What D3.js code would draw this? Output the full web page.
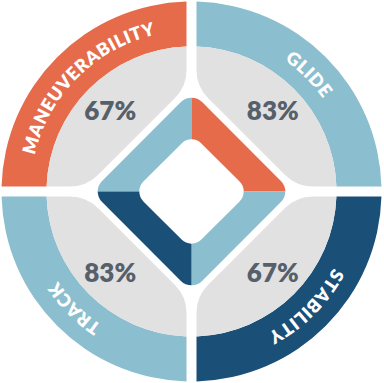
<!DOCTYPE html>
<html><head><meta charset="utf-8">
<script src="https://cdn.jsdelivr.net/npm/d3@7"></script>
<style>html,body{margin:0;padding:0;background:#fff;}svg{display:block;}</style>
</head><body>
<svg id="chart" width="384" height="383"></svg>
<script>
const categories = ["MANEUVERABILITY", "GLIDE", "STABILITY", "TRACK"];
const values = [67, 83, 67, 83];
const ringColors = ["#E66B4B", "#8BBECE", "#1A4F78", "#8BBECE"];
const diamondColors = ["#8BBECE", "#E66B4B", "#8BBECE", "#1A4F78"]; // TL, TR, BR, BL
const greyColor = "#E2E1E1";
const textColor = "#56606A";

const cx = 191.5, cy = 191.5;
const R = 190, Rin = 145, gap = 10, h = gap / 2;
const G = 110, rf = 40;           // grey inner diagonal (L1) and fillet radius
const dOuter = 100, dInner = 58;  // diamond L1 sizes
const labelFont = "Lato, 'Open Sans', sans-serif";

const svg = d3.select("#chart");
const g = svg.append("g").attr("transform", `translate(${cx},${cy})`);

const pie = d3.pie().sort(null).value(() => 1).startAngle(-Math.PI / 2).endAngle(3 * Math.PI / 2);
const arcs = pie(categories.map((c, i) => ({ cat: c, value: values[i], i })));

// outer coloured ring
const ringArc = d3.arc().innerRadius(Rin).outerRadius(R).padAngle(gap / R).padRadius(R);
g.selectAll("path.ring").data(arcs).join("path")
  .attr("class", "ring")
  .attr("d", ringArc)
  .attr("fill", d => ringColors[d.data.i]);

// grey sectors (TL shape, rotated for others)
function greyPath() {
  const p = d3.path();
  const ay = -Math.sqrt(Rin * Rin - h * h);
  const A = [-h, ay], B = [-h, -(G - h)], C = [-(G - h), -h], D = [ay, -h];
  p.moveTo(A[0], A[1]);
  p.arcTo(B[0], B[1], C[0], C[1], rf);
  p.arcTo(C[0], C[1], D[0], D[1], rf);
  p.lineTo(D[0], D[1]);
  let a0 = Math.atan2(D[1], D[0]); if (a0 < 0) a0 += 2 * Math.PI;
  let a1 = Math.atan2(A[1], A[0]); if (a1 < 0) a1 += 2 * Math.PI;
  p.arc(0, 0, Rin, a0, a1, false);
  p.closePath();
  return p.toString();
}
g.selectAll("path.grey").data(arcs).join("path")
  .attr("class", "grey")
  .attr("d", greyPath())
  .attr("transform", d => `rotate(${d.data.i * 90})`)
  .attr("fill", greyColor);

// diamond quadrants
const defs = svg.append("defs");
const quadRects = [[-200, -200], [0, -200], [0, 0], [-200, 0]];
quadRects.forEach((q, i) => {
  defs.append("clipPath").attr("id", "q" + i)
    .append("rect").attr("x", q[0]).attr("y", q[1]).attr("width", 200).attr("height", 200);
});
const so = dOuter / Math.SQRT2, si = dInner / Math.SQRT2;
g.selectAll("g.dq").data(arcs).join("g")
  .attr("class", "dq")
  .attr("clip-path", d => `url(#q${d.data.i})`)
  .append("rect")
  .attr("x", -so).attr("y", -so).attr("width", 2 * so).attr("height", 2 * so)
  .attr("rx", 15).attr("ry", 15)
  .attr("transform", "rotate(45)")
  .attr("fill", d => diamondColors[d.data.i]);
g.append("rect")
  .attr("x", -si).attr("y", -si).attr("width", 2 * si).attr("height", 2 * si)
  .attr("rx", 14).attr("ry", 14)
  .attr("transform", "rotate(45)")
  .attr("fill", "#fff");

// curved labels, one glyph at a time along the ring
const rb = 161, lfs = 18, ls = 0.6;
const measure = svg.append("text")
  .attr("font-family", labelFont).attr("font-weight", 800).attr("font-size", lfs)
  .attr("x", -1000).attr("y", -1000);
arcs.forEach(d => {
  const chars = d.data.cat.split("");
  const widths = chars.map(c => { measure.text(c); return measure.node().getComputedTextLength() + ls; });
  const total = d3.sum(widths) - ls;
  const mid = (d.startAngle + d.endAngle) / 2;
  let cum = 0;
  const lg = g.append("g").attr("class", "label");
  chars.forEach((c, k) => {
    const a = mid + (cum + (widths[k] - ls) / 2 - total / 2) / rb;
    cum += widths[k];
    lg.append("text")
      .attr("transform", `translate(${rb * Math.sin(a)},${-rb * Math.cos(a)}) rotate(${a * 180 / Math.PI})`)
      .attr("text-anchor", "middle")
      .attr("fill", "#fff")
      .attr("font-family", labelFont)
      .attr("font-weight", 800)
      .attr("font-size", lfs)
      .text(c);
  });
});
measure.remove();

// percentages
const pctArc = d3.arc().innerRadius(115).outerRadius(115);
g.selectAll("text.pct").data(arcs).join("text")
  .attr("class", "pct")
  .attr("transform", d => `translate(${pctArc.centroid(d)})`)
  .attr("text-anchor", "middle")
  .attr("dy", "0.36em")
  .attr("fill", textColor)
  .attr("font-family", labelFont)
  .attr("font-weight", 800)
  .attr("font-size", 26)
  .text(d => d.data.value + "%");
</script>
</body></html>
